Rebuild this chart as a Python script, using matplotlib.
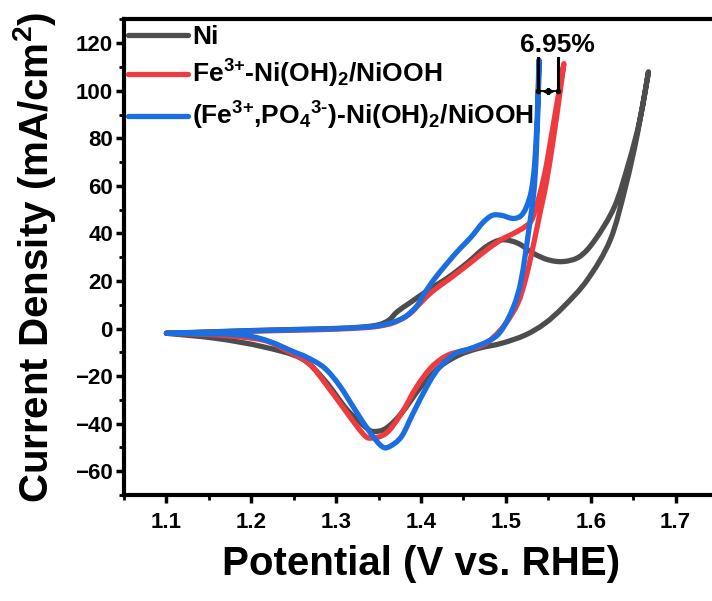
import matplotlib
matplotlib.use("Agg")
import numpy as np
import matplotlib.pyplot as plt
from matplotlib.path import Path
from matplotlib.patches import PathPatch
from matplotlib.lines import Line2D
from matplotlib.ticker import MultipleLocator

plt.rcParams.update({
    "font.family": ["Liberation Sans", "DejaVu Sans"],
    "font.weight": "bold",
    "mathtext.fontset": "custom",
    "mathtext.rm": "Liberation Sans:bold",
    "mathtext.bf": "Liberation Sans:bold",
    "mathtext.it": "Liberation Sans:bold:italic",
    "mathtext.default": "bf",
    "axes.unicode_minus": True,
})

# ---- CV loops: anodic sweep up to the vertex, then cathodic sweep back ----
ni_potential = [1.100, 1.150, 1.204, 1.250, 1.295, 1.330, 1.350, 1.362, 1.372, 1.386,
                1.409, 1.432, 1.454, 1.477, 1.495, 1.514, 1.532, 1.550, 1.568, 1.587,
                1.605, 1.628, 1.645, 1.658, 1.668,
                1.655, 1.641, 1.623, 1.596, 1.568, 1.546, 1.523, 1.495, 1.468, 1.445,
                1.4225, 1.400, 1.377, 1.359, 1.345, 1.336, 1.313, 1.286, 1.2585, 1.213,
                1.158, 1.100]
ni_current = [-2.0, -1.4, -0.8, -0.4, 0.0, 0.6, 1.6, 3.5, 7.1, 10.6,
              16.3, 21.5, 27.5, 34.5, 37.3, 35.9, 31.7, 28.9, 28.2, 30.3,
              37.3, 51.3, 70.0, 88.0, 108.0,
              82.0, 59.7, 37.3, 20.5, 9.2, 2.2, -2.7, -6.2, -8.3, -11.1,
              -16.0, -24.4, -35.6, -41.9, -43.3, -41.9, -34.2, -21.6, -12.5, -7.6,
              -4.1, -2.0]

fe_potential = [1.100, 1.150, 1.204, 1.250, 1.295, 1.330, 1.350, 1.368, 1.386, 1.400,
                1.413, 1.432, 1.454, 1.477, 1.495, 1.509, 1.523, 1.532, 1.545, 1.556,
                1.568,
                1.564, 1.556, 1.548, 1.541, 1.532, 1.523, 1.514, 1.500, 1.486, 1.473,
                1.454, 1.432, 1.413, 1.395, 1.377, 1.359, 1.3405, 1.331, 1.313, 1.290,
                1.2676, 1.240, 1.213, 1.158, 1.100]
fe_current = [-2.0, -1.6, -1.1, -0.7, -0.3, 0.3, 1.0, 2.5, 6.0, 11.0,
              15.5, 20.5, 26.5, 33.0, 37.5, 40.0, 43.0, 47.0, 64.0, 86.0,
              111.0,
              100.0, 80.0, 62.0, 50.0, 34.5, 20.5, 10.6, 2.2, -3.4, -6.9,
              -9.0, -11.1, -16.0, -24.4, -35.6, -44.0, -46.1, -44.0, -35.6, -24.4,
              -14.6, -9.0, -4.8, -2.7, -2.0]

fep_potential = [1.100, 1.150, 1.204, 1.250, 1.295, 1.330, 1.350, 1.368, 1.3815, 1.395,
                 1.404, 1.418, 1.441, 1.459, 1.4727, 1.484, 1.495, 1.505, 1.5114, 1.518,
                 1.524, 1.530, 1.534, 1.537, 1.539,
                 1.538, 1.534, 1.527, 1.518, 1.509, 1.495, 1.482, 1.459, 1.441, 1.4225,
                 1.409, 1.3907, 1.377, 1.363, 1.354, 1.3405, 1.3223, 1.304, 1.286, 1.265,
                 1.2494, 1.222, 1.195, 1.158, 1.100]
fep_current = [-2.0, -1.5, -0.9, -0.5, -0.1, 0.5, 1.2, 2.8, 5.0, 9.5,
               14.8, 21.9, 31.7, 38.5, 44.5, 47.6, 47.6, 46.5, 46.4, 47.5,
               51.0, 58.0, 70.0, 90.0, 113.0,
               95.0, 62.0, 41.5, 20.5, 9.2, -0.6, -4.8, -8.3, -10.4, -16.0,
               -23.0, -35.6, -45.4, -49.6, -49.6, -44.0, -34.2, -24.0, -16.5, -12.0,
               -9.7, -5.5, -3.0, -2.2, -2.0]

labels = ["Ni",
          r"Fe$^{\text{3+}}$-Ni(OH)$_{\text{2}}$/NiOOH",
          r"(Fe$^{\text{3+}}$,PO$_{\text{4}}{}^{\text{3-}}$)-Ni(OH)$_{\text{2}}$/NiOOH"]
colors = ["#4d4d4d", "#ee3b40", "#1b6ee0"]

gap_label = "6.95%"
gap_left, gap_right = 1.5379, 1.5615
gap_low, gap_high = 99.9, 113.8


def smooth_path(xs, ys):
    """Catmull-Rom spline through the points, as cubic Bezier segments."""
    pts = np.column_stack([xs, ys]).astype(float)
    n = len(pts)
    verts = [pts[0]]
    codes = [Path.MOVETO]
    for i in range(n - 1):
        p0 = pts[i - 1] if i > 0 else pts[i]
        p1, p2 = pts[i], pts[i + 1]
        p3 = pts[i + 2] if i + 2 < n else pts[i + 1]
        verts += [p1 + (p2 - p0) / 6.0, p2 - (p3 - p1) / 6.0, p2]
        codes += [Path.CURVE4] * 3
    return Path(verts, codes)


fig = plt.figure(figsize=(7.12, 6.01), dpi=100)
ax = fig.add_axes([0.1742, 0.1764, 0.8343, 0.7912])

lw = 3.8
for xs, ys, c in [(ni_potential, ni_current, colors[0]),
                  (fe_potential, fe_current, colors[1]),
                  (fep_potential, fep_current, colors[2])]:
    ax.add_patch(PathPatch(smooth_path(xs, ys), fill=False, edgecolor=c, lw=lw,
                           capstyle="round", joinstyle="round"))

ax.set_xlim(1.05, 1.75)
ax.set_ylim(-70, 130)
ax.xaxis.set_minor_locator(MultipleLocator(0.05))
ax.yaxis.set_minor_locator(MultipleLocator(10))
ax.set_xticks([1.1, 1.2, 1.3, 1.4, 1.5, 1.6, 1.7])
ax.set_yticks([-60, -40, -20, 0, 20, 40, 60, 80, 100, 120])

for s in ax.spines.values():
    s.set_linewidth(3)
ax.tick_params(which="major", direction="out", length=6, width=2.5,
               labelsize=16)
ax.tick_params(axis="x", which="major", pad=6)
ax.tick_params(axis="y", which="major", pad=2)
ax.tick_params(which="minor", direction="out", length=3.5, width=2)
for t in ax.get_xticklabels() + ax.get_yticklabels():
    t.set_fontweight("bold")

ax.set_xlabel("Potential (V vs. RHE)", fontsize=29, fontweight="bold")
ax.set_ylabel("Current Density (mA/cm$^{\\text{2}}$)", fontsize=29,
              fontweight="bold")
ax.xaxis.set_label_coords(0.5, -0.105)
ax.yaxis.set_label_coords(-0.111, 0.5)

handles = [Line2D([], [], color=c, lw=lw, solid_capstyle="round") for c in colors]
ax.legend(handles, labels, loc="upper left", bbox_to_anchor=(-0.003, 1.0),
          frameon=False, fontsize=19, handlelength=2.3, handletextpad=0.15,
          labelspacing=0.36, borderaxespad=0, borderpad=0.2)

# potential gap marker between the two steepest branches
ax.plot([gap_left, gap_left], [gap_low, gap_high], color="black", lw=2.2)
ax.plot([gap_right, gap_right], [gap_low, gap_high], color="black", lw=2.2)
ax.plot([gap_left, gap_right], [gap_low, gap_low], color="black", lw=1.3)
ax.plot([gap_left, gap_right], [gap_low, gap_low], "o", color="black", ms=3)
mid = 0.5 * (gap_left + gap_right)
ax.plot([mid - 0.0022], [gap_low], marker="<", color="black", ms=5)
ax.plot([mid + 0.0022], [gap_low], marker=">", color="black", ms=5)
ax.text(1.5602, 119.3, gap_label, ha="center", va="center", fontsize=19,
        fontweight="bold")

fig.savefig("out.png", dpi=100)
